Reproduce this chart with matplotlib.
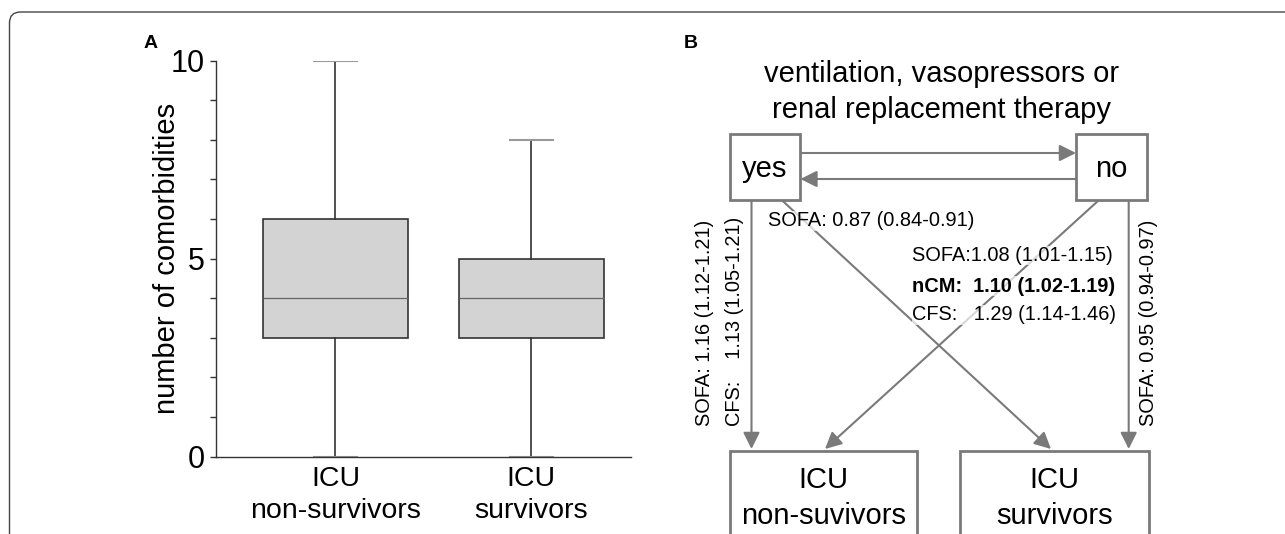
import matplotlib
matplotlib.use("Agg")
import matplotlib.pyplot as plt
from matplotlib.patches import Rectangle, FancyBboxPatch

plt.rcParams['font.family'] = ['Liberation Sans', 'DejaVu Sans']

# panel A: box plot summary (number of comorbidities)
groups = ["ICU\nnon-survivors", "ICU\nsurvivors"]
q1 = [3, 3]
medians = [4, 4]
q3 = [6, 5]
whisk_lo = [0, 0]
whisk_hi = [10, 8]

# panel B: flow chart texts
title_b = "ventilation, vasopressors or\nrenal replacement therapy"
node_top = ["yes", "no"]
node_bottom = ["ICU\nnon-suvivors", "ICU\nsurvivors"]
or_yes_nonsurv = ["SOFA: 1.16 (1.12-1.21)", "CFS:    1.13 (1.05-1.21)"]
or_yes_surv = "SOFA: 0.87 (0.84-0.91)"
or_no_nonsurv = ["SOFA:1.08 (1.01-1.15)", "nCM:  1.10 (1.02-1.19)", "CFS:   1.29 (1.14-1.46)"]
or_no_surv = "SOFA: 0.95 (0.94-0.97)"

W, H = 1285, 534
fig = plt.figure(figsize=(W / 100, H / 100), dpi=100)

# ---------- panel A ----------
ax = fig.add_axes([216 / W, 1 - 456.7 / H, (630.6 - 216) / W, (456.7 - 60.6) / H])
stats = []
for i in range(len(groups)):
    stats.append(dict(med=medians[i], q1=q1[i], q3=q3[i],
                      whislo=whisk_lo[i], whishi=whisk_hi[i], fliers=[]))
ax.bxp(stats, positions=[1, 2], widths=0.742, patch_artist=True,
       showfliers=False, capwidths=0.22,
       boxprops=dict(facecolor='#d3d3d3', edgecolor='#333333', linewidth=1.2),
       medianprops=dict(color='#666666', linewidth=0.9),
       whiskerprops=dict(color='#333333', linewidth=1.2),
       capprops=dict(color='#999999', linewidth=1.5))
ax.set_xlim(0.389, 2.509)
ax.set_ylim(0, 10)
ax.set_yticks([0, 5, 10])
ax.set_yticks(range(0, 11), minor=True)
ax.set_xticks([1, 2])
ax.set_xticklabels(groups, fontsize=20.5, linespacing=1.3)
ax.tick_params(axis='y', which='both', direction='out', length=4.3, width=1,
               color='#333333', labelsize=22, pad=4)
ax.tick_params(axis='x', length=0, pad=6.5)
for s in ['top', 'right']:
    ax.spines[s].set_visible(False)
for s in ['left', 'bottom']:
    ax.spines[s].set_color('#333333')
    ax.spines[s].set_linewidth(1)
ax.set_ylabel("number of comorbidities", fontsize=21, va='center')
ax.yaxis.set_label_coords(-0.118, 0.5)

# ---------- panel B (pixel coordinates) ----------
ax2 = fig.add_axes([0, 0, 1, 1])
ax2.set_xlim(0, W)
ax2.set_ylim(H, 0)
ax2.axis('off')

# outer frame
ax2.add_patch(FancyBboxPatch((9.5, 12), 1400, 700,
                             boxstyle='round,pad=0,rounding_size=11',
                             facecolor='none', edgecolor='#444444', lw=1))

fig.text(151 / W, 1 - 44 / H, "A", fontsize=14, fontweight='bold', ha='center', va='center')
fig.text(691 / W, 1 - 44 / H, "B", fontsize=14, fontweight='bold', ha='center', va='center')

ax2.text(942, 92, title_b, fontsize=21, ha='center', va='center', linespacing=1.32)

grey = '#7a7a7a'
boxes_top = [(729.7, 134, 70.7, 66.3), (1076, 134, 71, 66.3)]
for (x, y, w, h), lab in zip(boxes_top, node_top):
    ax2.add_patch(Rectangle((x, y), w, h, facecolor='white', edgecolor=grey, lw=2, zorder=2))
    ax2.text(x + w / 2, y + h / 2 + 2, lab, fontsize=21, ha='center', va='center', zorder=3)

boxes_bot = [(730, 451, 187, 120), (960, 451, 189, 120)]
for (x, y, w, h), lab in zip(boxes_bot, node_bottom):
    ax2.add_patch(Rectangle((x, y), w, h, facecolor='white', edgecolor=grey, lw=2, zorder=2))
    ax2.text(x + w / 2, 498, lab, fontsize=21, ha='center', va='center',
             linespacing=1.32, zorder=3)

arrows = [((800.4, 153), (1076, 153)),
          ((1076, 179), (800.4, 179)),
          ((751.5, 200.3), (751.5, 449)),
          ((1128.7, 200.3), (1128.7, 449)),
          ((782, 200.3), (1051, 449)),
          ((1098.7, 200.3), (825, 449))]
for start, tip in arrows:
    ax2.annotate('', xy=tip, xytext=start, zorder=1,
                 arrowprops=dict(arrowstyle='-|>,head_length=0.5,head_width=0.25',
                                 mutation_scale=20, lw=1.5, color=grey,
                                 shrinkA=0, shrinkB=0))

small = dict(fontsize=14.4, zorder=4)
bg = dict(facecolor='white', alpha=0.7, edgecolor='none', pad=0.3)

ax2.text(767.5, 221, or_yes_surv, ha='left', va='center', bbox=bg, **small)
for txt, yy, wt in zip(or_no_nonsurv, [255.5, 286, 315], ['normal', 'bold', 'normal']):
    ax2.text(912, yy, txt, ha='left', va='center', fontweight=wt, bbox=bg, **small)
for txt, xx in zip(or_yes_nonsurv, [704, 735]):
    ax2.text(xx, 426, txt, rotation=90, ha='center', va='bottom', **small)
ax2.text(1148, 426, or_no_surv, rotation=90, ha='center', va='bottom', **small)

fig.savefig("out.png", dpi=100)
